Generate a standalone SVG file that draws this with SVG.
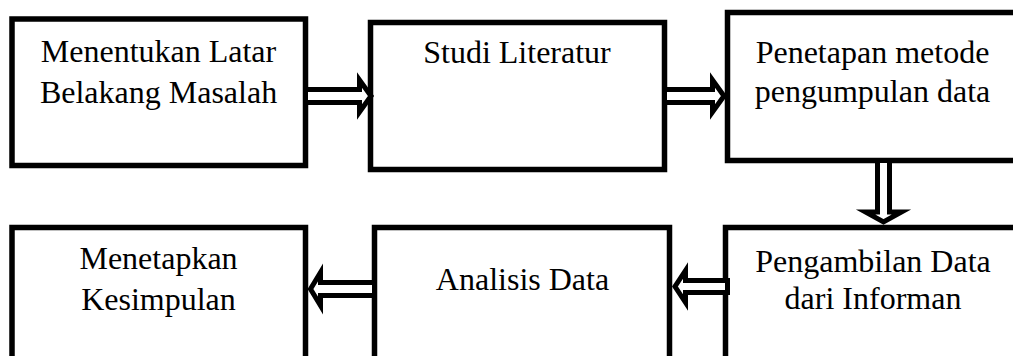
<svg xmlns="http://www.w3.org/2000/svg" width="1013" height="356" viewBox="0 0 1013 356">
<style>
.box{fill:#fff;stroke:#000;stroke-width:5.5}
.arr{fill:#fff;stroke:#000;stroke-width:5;stroke-linejoin:miter;stroke-miterlimit:10}
text{font-family:"Liberation Serif","Times New Roman",serif;font-size:32px;fill:#000;text-anchor:middle}
</style>
<rect width="1013" height="356" fill="#fff"/>
<g id="n1"><rect class="box" x="12" y="19" width="293.5" height="146.5"/><text x="158.5" y="62">Menentukan Latar</text><text x="158.5" y="103">Belakang Masalah</text></g>
<g id="n2"><rect class="box" x="370.5" y="22.5" width="294" height="147"/><text x="517" y="63">Studi Literatur</text></g>
<g id="n3"><rect class="box" x="727.5" y="12.5" width="300" height="148"/><text x="872.5" y="63">Penetapan metode</text><text x="872.5" y="102">pengumpulan data</text></g>
<g id="n4"><rect class="box" x="725.5" y="227.5" width="300" height="150"/><text x="873" y="272">Pengambilan Data</text><text x="873" y="309">dari Informan</text></g>
<g id="n5"><rect class="box" x="374.5" y="227.5" width="295" height="150"/><text x="522.5" y="290">Analisis Data</text></g>
<g id="n6"><rect class="box" x="12" y="227.5" width="293.5" height="150"/><text x="158.5" y="269">Menetapkan</text><text x="158.5" y="310">Kesimpulan</text></g>
<g id="connectors">
<polygon class="arr" points="305.5,89.5 359.5,89.5 359.5,80 371,96 359.5,112 359.5,102.5 305.5,102.5"/>
<polygon class="arr" points="664.5,89.5 712.5,89.5 712.5,80 724,96 712.5,112 712.5,102.5 664.5,102.5"/>
<polygon class="arr" points="877.5,160.5 877.5,212 865.5,212 883.5,222 901.5,212 889.5,212 889.5,160.5"/>
<polygon class="arr" points="727.5,280.5 685.5,280.5 685.5,270.5 675,286.5 685.5,302.5 685.5,292.5 727.5,292.5"/>
<polygon class="arr" points="374.5,282.5 320.5,282.5 320.5,272.5 310.5,289 320.5,305.5 320.5,295.5 374.5,295.5"/>
</g>
</svg>
